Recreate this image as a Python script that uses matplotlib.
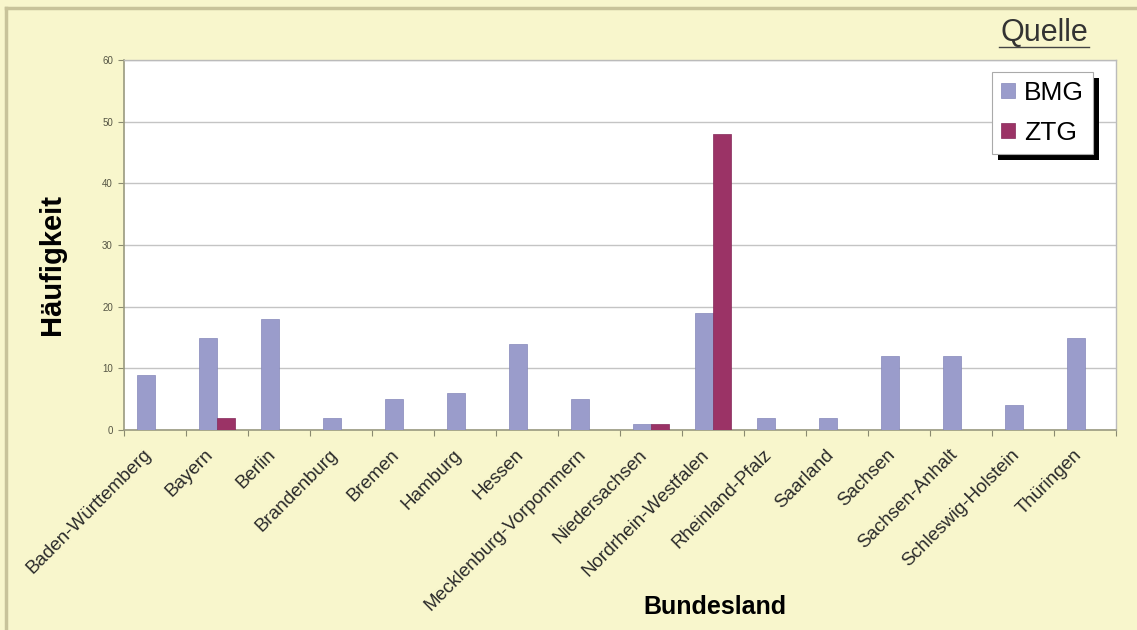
import matplotlib
matplotlib.use("Agg")
import matplotlib.pyplot as plt
import numpy as np
from matplotlib.lines import Line2D
from matplotlib.transforms import ScaledTranslation
import matplotlib.patheffects as pe

plt.rcParams['font.family'] = ['Liberation Sans', 'DejaVu Sans']

categories = ["Baden-Württemberg", "Bayern", "Berlin", "Brandenburg", "Bremen",
              "Hamburg", "Hessen", "Mecklenburg-Vorpommern", "Niedersachsen",
              "Nordrhein-Westfalen", "Rheinland-Pfalz", "Saarland", "Sachsen",
              "Sachsen-Anhalt", "Schleswig-Holstein", "Thüringen"]
bmg = [9, 15, 18, 2, 5, 6, 14, 5, 1, 19, 2, 2, 12, 12, 4, 15]
ztg = [0, 2, 0, 0, 0, 0, 0, 0, 1, 48, 0, 0, 0, 0, 0, 0]
yticks = [0, 10, 20, 30, 40, 50, 60]

W, H = 1137, 630
bg = "#F8F6CC"
fig = plt.figure(figsize=(W / 100, H / 100), dpi=100, facecolor=bg)
ax = fig.add_axes([124 / W, 1 - 430 / H, (1116 - 124) / W, (430 - 60) / H])
ax.set_facecolor("white")

x = np.arange(len(categories))
bw = 0.29
ax.bar(x - bw / 2, bmg, width=bw, color="#9A9CCB", edgecolor="#8587BA", linewidth=0.5, zorder=3, label="BMG")
ax.bar(x + bw / 2, ztg, width=bw, color="#9B3366", edgecolor="#85285A", linewidth=0.5, zorder=3, label="ZTG")

ax.set_xlim(-0.5, len(categories) - 0.5)
ax.set_ylim(0, 60)
ax.set_yticks(yticks)
ax.set_yticklabels([str(v) for v in yticks], fontsize=7, color="#555544")
ax.yaxis.grid(True, color="#C4C4C4", linewidth=1.0, zorder=0)
ax.tick_params(axis="y", length=4, color="#8A8A70", width=0.8, pad=4)

ax.set_xticks(x)
ax.set_xticklabels(categories, rotation=45, ha="right", va="center", rotation_mode="anchor",
                   fontsize=13.5, color="#2A2A2A")
ax.tick_params(axis="x", length=0, pad=16)
shift = ScaledTranslation(-0.06, 0.0, fig.dpi_scale_trans)
for lab in ax.get_xticklabels():
    lab.set_transform(lab.get_transform() + shift)
ax.set_xticks(np.arange(len(categories) + 1) - 0.5, minor=True)
ax.tick_params(axis="x", which="minor", length=4, color="#8A8A70", width=0.8)

for s in ["left", "bottom"]:
    ax.spines[s].set_color("#9A9A80")
    ax.spines[s].set_linewidth(1.2)
for s in ["right", "top"]:
    ax.spines[s].set_color("#BBBBBB")
    ax.spines[s].set_linewidth(1.0)

fig.text(52 / W, 1 - 264 / H, "Häufigkeit", fontsize=21, fontweight="bold",
         ha="center", va="center", rotation=90)
fig.text(715 / W, 1 - 607 / H, "Bundesland", fontsize=18, fontweight="bold",
         ha="center", va="center")

# Quelle underlined
fig.text(1044 / W, 1 - 33 / H, "Quelle", fontsize=22, ha="center", va="center", color="#333333")
fig.add_artist(Line2D([999 / W, 1089 / W], [1 - 47 / H, 1 - 47 / H], color="#444444", linewidth=1.0))

# Legend with shadow
leg = ax.legend(loc="upper right", bbox_to_anchor=((1093 - 124) / (1116 - 124), (430 - 72) / 370),
                fontsize=19, frameon=True, fancybox=False, shadow=False, framealpha=1.0,
                handlelength=0.5, handleheight=0.5, handletextpad=0.35, labelspacing=0.6,
                borderpad=0.35, borderaxespad=0.0, edgecolor="#AAAAAA")
leg.get_frame().set_linewidth(0.8)
leg.get_frame().set_facecolor("white")
leg.get_frame().set_path_effects([pe.SimplePatchShadow(offset=(4, -4), shadow_rgbFace="black", alpha=1.0), pe.Normal()])
leg.set_zorder(10)

# Outer border lines (left and top)
fig.add_artist(Line2D([6 / W, 6 / W], [0, 1 - 8 / H], color="#C8C39A", linewidth=2.5))
fig.add_artist(Line2D([6 / W, 1], [1 - 8 / H, 1 - 8 / H], color="#C8C39A", linewidth=2.5))

fig.savefig("out.png", dpi=100, facecolor=bg)
